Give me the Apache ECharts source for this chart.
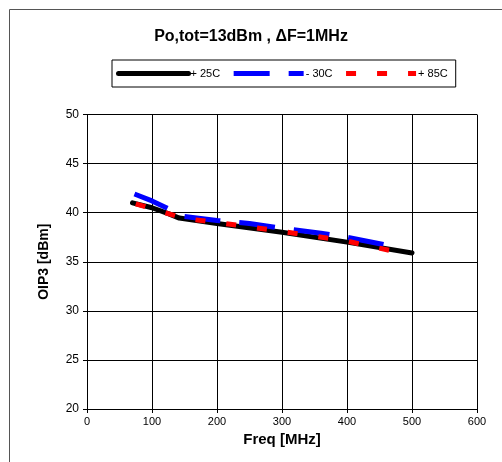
<!DOCTYPE html>
<html><head><meta charset="utf-8">
<script src="https://cdn.jsdelivr.net/npm/echarts@6/dist/echarts.min.js"></script>
<style>html,body{margin:0;padding:0;background:#fff}#c{width:502px;height:462px}</style>
</head><body><div id="c"></div>
<script>
var titleText = 'Po,tot=13dBm , \u0394F=1MHz';
var seriesNames = ['+ 25C', '- 30C', '+ 85C'];
var freq25 = [70, 100, 125, 142, 200, 300, 400, 500];
var oip25 = [41.0, 40.5, 39.9, 39.45, 38.9, 38.0, 37.0, 35.9];
var freqM30 = [73, 100, 122, 150, 200, 250, 300, 360, 400, 475];
var oipM30 = [41.9, 41.2, 40.5, 39.6, 39.2, 38.9, 38.4, 37.9, 37.5, 36.5];
var freq85 = [75, 100, 125, 150, 200, 300, 400, 466];
var oip85 = [40.9, 40.4, 39.9, 39.4, 39.0, 38.1, 37.1, 36.15];
var xTicks = {min: 0, max: 600, step: 100};
var yTicks = {min: 20, max: 50, step: 5};

function pairs(xs, ys){ return xs.map(function(x,i){ return [x, ys[i]]; }); }

var chart = echarts.init(document.getElementById('c'), null, {renderer:'canvas'});
var font = 'Liberation Sans, Arial, sans-serif';
chart.setOption({
  animation: false,
  backgroundColor: '#fff',
  textStyle: {fontFamily: font},
  title: {text: titleText, left: 'center', top: 24,
    textStyle: {fontSize: 16, fontWeight: 'bold', color: '#000', fontFamily: font}},
  graphic: [{type: 'rect', shape: {x: 9.5, y: 9.5, width: 520, height: 480},
    style: {fill: 'none', stroke: '#555', lineWidth: 1}, silent: true}],
  legend: {
    left: 112, top: 60, width: 341,
    padding: [8, 8, 8, 4],
    borderColor: '#000', borderWidth: 1,
    itemWidth: 70, itemHeight: 10, itemGap: 11,
    itemStyle: {opacity: 0},
    lineStyle: {width: 5},
    textStyle: {fontSize: 11, color: '#000', fontFamily: font, padding: [0,0,0,-3]},
    data: seriesNames
  },
  grid: {left: 87, right: 25, top: 114.5, bottom: 53},
  xAxis: {
    type: 'value', min: xTicks.min, max: xTicks.max, interval: xTicks.step,
    name: 'Freq [MHz]', nameLocation: 'middle', nameGap: 20,
    nameTextStyle: {fontSize: 15, fontWeight: 'bold', color: '#000', fontFamily: font},
    axisLine: {lineStyle: {color: '#000', width: 1}},
    axisTick: {show: true, length: 4, lineStyle: {color: '#000'}},
    axisLabel: {fontSize: 11, color: '#000', margin: 7, fontFamily: font},
    splitLine: {show: true, lineStyle: {color: '#000', width: 1}}
  },
  yAxis: {
    type: 'value', min: yTicks.min, max: yTicks.max, interval: yTicks.step,
    name: 'OIP3 [dBm]', nameLocation: 'middle', nameGap: 36, nameRotate: 90,
    nameTextStyle: {fontSize: 14, fontWeight: 'bold', color: '#000', fontFamily: font},
    axisLine: {show: true, lineStyle: {color: '#000', width: 1}},
    axisTick: {show: true, length: 4, lineStyle: {color: '#000'}},
    axisLabel: {fontSize: 12, color: '#000', margin: 8, fontFamily: font},
    splitLine: {show: true, lineStyle: {color: '#000', width: 1}}
  },
  series: [
    {name: seriesNames[0], type: 'line', symbol: 'none', data: pairs(freq25, oip25), z: 3,
      lineStyle: {color: '#000', width: 5, cap: 'round', join: 'round'}, itemStyle: {color: '#000'}},
    {name: seriesNames[1], type: 'line', symbol: 'none', data: pairs(freqM30, oipM30), z: 4,
      lineStyle: {color: '#0000ff', width: 5, type: [36, 19]}, itemStyle: {color: '#0000ff'}},
    {name: seriesNames[2], type: 'line', symbol: 'none', data: pairs(freq85, oip85), z: 5,
      lineStyle: {color: '#ff0000', width: 5, type: [10, 21]}, itemStyle: {color: '#ff0000'}}
  ]
});
</script></body></html>
